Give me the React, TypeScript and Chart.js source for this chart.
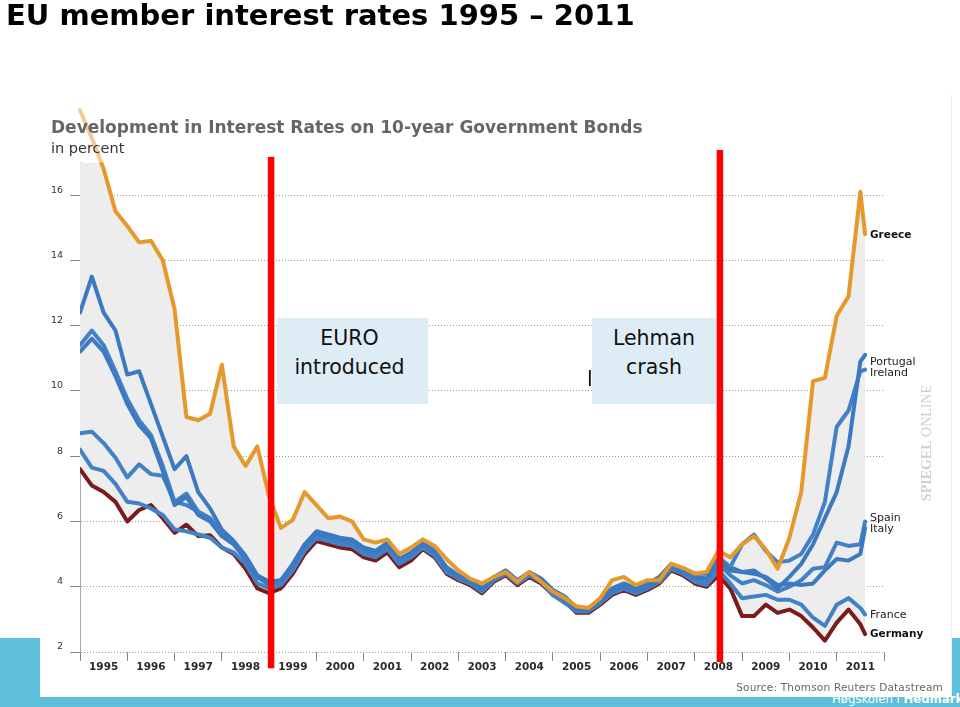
import React, { useEffect, useRef } from 'react';
import { Chart, registerables } from 'chart.js';

Chart.register(...registerables);

// quarterly sampling dates (decimal years)
const dates = [
  1995, 1995.25, 1995.5, 1995.75, 1996, 1996.25, 1996.5, 1996.75,
  1997, 1997.25, 1997.5, 1997.75, 1998, 1998.25, 1998.5, 1998.75,
  1999, 1999.25, 1999.5, 1999.75, 2000, 2000.25, 2000.5, 2000.75,
  2001, 2001.25, 2001.5, 2001.75, 2002, 2002.25, 2002.5, 2002.75,
  2003, 2003.25, 2003.5, 2003.75, 2004, 2004.25, 2004.5, 2004.75,
  2005, 2005.25, 2005.5, 2005.75, 2006, 2006.25, 2006.5, 2006.75,
  2007, 2007.25, 2007.5, 2007.75, 2008, 2008.25, 2008.5, 2008.75,
  2009, 2009.25, 2009.5, 2009.75, 2010, 2010.25, 2010.5, 2010.75,
  2011, 2011.25, 2011.5, 2011.6,
];

const greece = [
  18.6, 17.75, 16.8, 15.5, 15.05, 14.55, 14.6, 14.0, 12.5, 9.2, 9.1, 9.3, 10.8, 8.3, 7.7, 8.3,
  6.75, 5.8, 6.05, 6.9, 6.5, 6.1, 6.15, 6.0, 5.45, 5.35, 5.45, 5.0, 5.2, 5.45, 5.25, 4.85,
  4.5, 4.25, 4.1, 4.3, 4.45, 4.15, 4.45, 4.15, 3.85, 3.65, 3.4, 3.35, 3.65, 4.2, 4.3, 4.05,
  4.2, 4.2, 4.7, 4.58, 4.4, 4.45, 5.1, 4.9, 5.3, 5.55, 5.15, 4.55, 5.5, 6.9, 10.3, 10.4,
  12.3, 12.9, 16.1, 14.8,
];
const italy = [
  12.4, 13.5, 12.4, 11.85, 10.5, 10.6, 9.6, 8.6, 7.6, 8.0, 6.9, 6.4, 5.75, 5.4, 4.95, 4.35,
  4.15, 4.2, 4.7, 5.3, 5.7, 5.6, 5.5, 5.45, 5.2, 5.1, 5.35, 4.85, 5.05, 5.35, 5.1, 4.6,
  4.35, 4.2, 3.95, 4.3, 4.5, 4.2, 4.45, 4.25, 3.9, 3.7, 3.35, 3.35, 3.6, 3.95, 4.1, 3.95,
  4.1, 4.3, 4.7, 4.55, 4.4, 4.4, 4.9, 4.6, 4.45, 4.4, 4.3, 4.05, 4.1, 4.05, 4.1, 4.5,
  4.85, 4.8, 5.0, 5.8,
];
const spain = [
  11.4, 11.85, 11.4, 10.6, 9.75, 9.1, 8.65, 7.7, 6.6, 6.85, 6.3, 6.1, 5.65, 5.35, 4.9, 4.3,
  4.1, 4.15, 4.65, 5.25, 5.65, 5.55, 5.45, 5.4, 5.15, 5.05, 5.3, 4.8, 5.0, 5.3, 5.05, 4.55,
  4.3, 4.15, 3.9, 4.25, 4.45, 4.15, 4.4, 4.2, 3.85, 3.65, 3.3, 3.3, 3.55, 3.85, 4.0, 3.85,
  4.0, 4.2, 4.6, 4.45, 4.25, 4.2, 4.7, 4.35, 4.1, 4.2, 4.05, 3.85, 4.0, 4.2, 4.55, 4.6,
  5.35, 5.25, 5.3, 6.0,
];
const portugal = [
  11.2, 11.6, 11.2, 10.45, 9.6, 8.95, 8.55, 7.55, 6.5, 6.75, 6.2, 6.0, 5.55, 5.3, 4.85, 4.3,
  4.1, 4.2, 4.65, 5.25, 5.65, 5.55, 5.45, 5.4, 5.15, 5.05, 5.3, 4.85, 5.0, 5.3, 5.05, 4.55,
  4.3, 4.15, 3.9, 4.25, 4.45, 4.15, 4.4, 4.2, 3.85, 3.6, 3.3, 3.3, 3.55, 3.85, 4.0, 3.85,
  4.0, 4.2, 4.6, 4.45, 4.3, 4.25, 4.8, 4.5, 4.45, 4.5, 4.25, 3.95, 4.3, 4.7, 5.3, 6.1,
  6.9, 8.3, 10.9, 11.1,
];
const ireland = [
  8.7, 8.75, 8.4, 7.95, 7.35, 7.75, 7.45, 7.4, 6.6, 6.5, 6.3, 6.1, 5.6, 5.3, 4.85, 4.3,
  4.05, 4.1, 4.6, 5.2, 5.6, 5.5, 5.4, 5.35, 5.1, 5.0, 5.25, 4.75, 4.95, 5.25, 5.0, 4.5,
  4.25, 4.1, 3.85, 4.2, 4.4, 4.1, 4.35, 4.15, 3.75, 3.5, 3.25, 3.25, 3.5, 3.8, 3.95, 3.8,
  3.95, 4.15, 4.55, 4.4, 4.2, 4.1, 4.75, 4.6, 5.3, 5.6, 5.1, 4.75, 4.8, 5.0, 5.6, 6.6,
  8.9, 9.4, 10.6, 10.65,
];
const france = [
  8.2, 7.65, 7.55, 7.15, 6.6, 6.55, 6.4, 6.2, 5.75, 5.7, 5.6, 5.5, 5.2, 5.05, 4.7, 4.1,
  3.95, 4.05, 4.5, 5.1, 5.5, 5.4, 5.3, 5.25, 5.0, 4.9, 5.15, 4.7, 4.9, 5.2, 4.95, 4.45,
  4.25, 4.1, 3.85, 4.2, 4.4, 4.1, 4.35, 4.15, 3.75, 3.55, 3.25, 3.25, 3.5, 3.8, 3.95, 3.8,
  3.95, 4.15, 4.55, 4.4, 4.15, 4.05, 4.5, 4.1, 3.65, 3.7, 3.75, 3.6, 3.6, 3.45, 3.05, 2.8,
  3.45, 3.65, 3.35, 3.15,
];
const germany = [
  7.6, 7.1, 6.9, 6.6, 6.0, 6.35, 6.5, 6.1, 5.65, 5.9, 5.55, 5.58, 5.2, 5.0, 4.55, 3.95,
  3.8, 3.95, 4.4, 5.0, 5.4, 5.3, 5.2, 5.15, 4.9, 4.8, 5.05, 4.6, 4.8, 5.15, 4.9, 4.4,
  4.2, 4.05, 3.8, 4.15, 4.35, 4.05, 4.3, 4.1, 3.75, 3.55, 3.2, 3.2, 3.45, 3.75, 3.9, 3.75,
  3.9, 4.1, 4.5, 4.35, 4.1, 4.0, 4.35, 3.95, 3.1, 3.1, 3.45, 3.2, 3.3, 3.1, 2.75, 2.35,
  2.9, 3.3, 2.85, 2.55,
];

const yearMin = 1995;
const yearMax = 2012;
const yTickValues = [2, 4, 6, 8, 10, 12, 14, 16];

// event markers (year, value range of the red bar)
const euroMark = { year: 1999.04, from: 1.5, to: 17.17 };
const lehmanMark = { year: 2008.53, from: 1.69, to: 17.38 };

const FONT = '"DejaVu Sans", Verdana, sans-serif';
const ORANGE = '#E6992B';
const BLUE = '#3B79C1';
const BLUE2 = '#4381C6';
const DARKRED = '#7A1C1C';

type TxtProps = { x: number; y: number; size: number; text: string; bold?: boolean; color?: string; family?: string };
function Txt({ x, y, size, text, bold, color, family }: TxtProps) {
  return (
    <div
      style={{
        position: 'absolute', left: x, top: y - size / 2, fontSize: size, lineHeight: 1,
        fontFamily: family || FONT, fontWeight: bold ? 'bold' : 'normal', color: color || '#222',
        whiteSpace: 'nowrap',
      }}
    >
      {text}
    </div>
  );
}

export default function App() {
  const ref = useRef<HTMLCanvasElement>(null);

  useEffect(() => {
    const canvas = ref.current;
    if (!canvas) return;
    const mk = (arr: number[]) => dates.map((d, i) => ({ x: d, y: arr[i] }));
    const line = (label: string, arr: number[], color: string, extra: any = {}) => ({
      label, data: mk(arr), borderColor: color, borderWidth: 4, pointRadius: 0,
      tension: 0, borderJoinStyle: 'round', borderCapStyle: 'round', fill: false, ...extra,
    });

    const fade = {
      id: 'fade',
      afterDatasetsDraw(chart: any) {
        const { ctx, chartArea: a } = chart;
        ctx.save();
        ctx.fillStyle = 'rgba(255,255,255,0.5)';
        ctx.fillRect(a.left - 2, 90, a.right - a.left + 4, a.top - 90);
        ctx.restore();
      },
    };
    const marks = {
      id: 'marks',
      afterDraw(chart: any) {
        const { ctx } = chart;
        const xs = chart.scales.x;
        const ys = chart.scales.y;
        ctx.save();
        ctx.fillStyle = '#FF0000';
        for (const m of [euroMark, lehmanMark]) {
          const x = xs.getPixelForValue(m.year);
          const y1 = ys.getPixelForValue(m.to);
          const y2 = ys.getPixelForValue(m.from);
          ctx.fillRect(x - 3.25, y1, 6.5, y2 - y1);
        }
        ctx.restore();
      },
    };

    const chart = new Chart(canvas, {
      type: 'line',
      data: {
        datasets: [
          line('Greece', greece, ORANGE, { fill: 6, backgroundColor: '#EDEDED', clip: false }),
          line('Portugal', portugal, BLUE),
          line('Ireland', ireland, BLUE2),
          line('Italy', italy, BLUE),
          line('Spain', spain, BLUE2),
          line('France', france, BLUE2),
          line('Germany', germany, DARKRED),
        ] as any,
      },
      options: {
        animation: false,
        responsive: false,
        maintainAspectRatio: false,
        events: [],
        layout: { padding: { left: 0, right: 76, top: 162.4, bottom: 25 } },
        plugins: {
          legend: { display: false },
          tooltip: { enabled: false },
          title: { display: false },
          filler: { drawTime: 'beforeDatasetsDraw', propagate: false },
        },
        scales: {
          x: {
            type: 'linear',
            min: yearMin,
            max: yearMax,
            afterFit: (s: any) => { s.height = 30; },
            border: { display: false },
            grid: { drawOnChartArea: false, drawTicks: true, tickLength: 9, tickColor: '#888', tickWidth: 1 },
            ticks: {
              stepSize: 1,
              autoSkip: false,
              maxRotation: 0,
              padding: 0,
              labelOffset: (884 - 80) / 17 / 2,
              color: '#2a2a2a',
              font: { family: FONT, size: 10.5, weight: 'bold' },
              callback: (v: any) => (Number(v) < yearMax ? String(v) : ''),
            },
          },
          y: {
            type: 'linear',
            min: 2,
            max: 17,
            afterFit: (s: any) => { s.width = 80; },
            afterBuildTicks: (s: any) => {
              s.ticks = yTickValues.map((v) => ({ value: v }));
            },
            border: { display: true, color: '#aaa', dash: [1, 2] },
            grid: { color: '#9a9a9a', lineWidth: 1, tickLength: 10, tickColor: '#888', drawTicks: true },
            ticks: {
              padding: 7,
              labelOffset: -5,
              color: '#333',
              font: { family: FONT, size: 9.5 },
              callback: (v: any) => String(v),
            },
          },
        },
      } as any,
      plugins: [fade, marks],
    });
    return () => chart.destroy();
  }, []);

  const boxStyle = (left: number, width: number): React.CSSProperties => ({
    position: 'absolute', left, top: 318, width, height: 86, background: '#DEEDF5',
    fontFamily: FONT, fontSize: 20.5, lineHeight: '29px', textAlign: 'center',
    color: '#111', paddingTop: 6.4, boxSizing: 'border-box',
  });

  return (
    <div style={{ position: 'absolute', left: 0, top: 0, width: 960, height: 707, overflow: 'hidden', background: '#fff' }}>
      {/* slide band */}
      <div style={{ position: 'absolute', left: 0, top: 638, width: 960, height: 69, background: '#5DBFD9' }} />
      <div
        style={{
          position: 'absolute', left: 832, top: 692, fontSize: 13, lineHeight: 1, color: '#fff',
          fontFamily: '"DejaVu Sans Condensed", "DejaVu Sans", sans-serif', fontStretch: 'condensed', whiteSpace: 'nowrap',
        }}
      >
        Høgskolen i <b>Hedmark</b>
      </div>
      {/* image area */}
      <div style={{ position: 'absolute', left: 40, top: 95, width: 911, height: 602, background: '#fff', borderRight: '1px solid #ececec' }} />

      <canvas ref={ref} width={960} height={707} style={{ position: 'absolute', left: 0, top: 0, width: 960, height: 707 }} />

      {/* slide title */}
      <Txt x={6} y={15} size={29} bold color="#000" text="EU member interest rates 1995 – 2011" />

      {/* chart header */}
      <Txt x={51} y={127.2} size={17} bold color="#666" text="Development in Interest Rates on 10-year Government Bonds" />
      <Txt x={51} y={148.2} size={14.5} color="#333" text="in percent" />

      {/* series labels */}
      <Txt x={870} y={234} size={10.5} bold color="#111" text="Greece" />
      <Txt x={870} y={361} size={11} color="#222" text="Portugal" />
      <Txt x={870} y={372} size={11} color="#222" text="Ireland" />
      <Txt x={870} y={517} size={11} color="#222" text="Spain" />
      <Txt x={870} y={528} size={11} color="#222" text="Italy" />
      <Txt x={870} y={614} size={11} color="#222" text="France" />
      <Txt x={870} y={633} size={10.5} bold color="#111" text="Germany" />

      <div
        style={{
          position: 'absolute', left: 927, top: 443, transform: 'translate(-50%, -50%) rotate(-90deg)',
          fontFamily: '"Liberation Serif", serif', fontSize: 14, color: '#cfcfcf', whiteSpace: 'nowrap', lineHeight: 1,
        }}
      >
        <b>SPIEGEL</b> ONLINE
      </div>

      <div
        style={{
          position: 'absolute', right: 17, top: 682, fontFamily: FONT, fontSize: 10.5, color: '#666',
          whiteSpace: 'nowrap', lineHeight: 1, letterSpacing: 0.2,
        }}
      >
        Source: Thomson Reuters Datastream
      </div>

      {/* annotations */}
      <Txt x={587} y={379} size={20.5} color="#111" text="l" />
      <div style={{ ...boxStyle(277, 151), paddingRight: 6 }}>
        EURO<br />introduced
      </div>
      <div style={boxStyle(592, 124)}>
        Lehman<br />crash
      </div>
    </div>
  );
}
